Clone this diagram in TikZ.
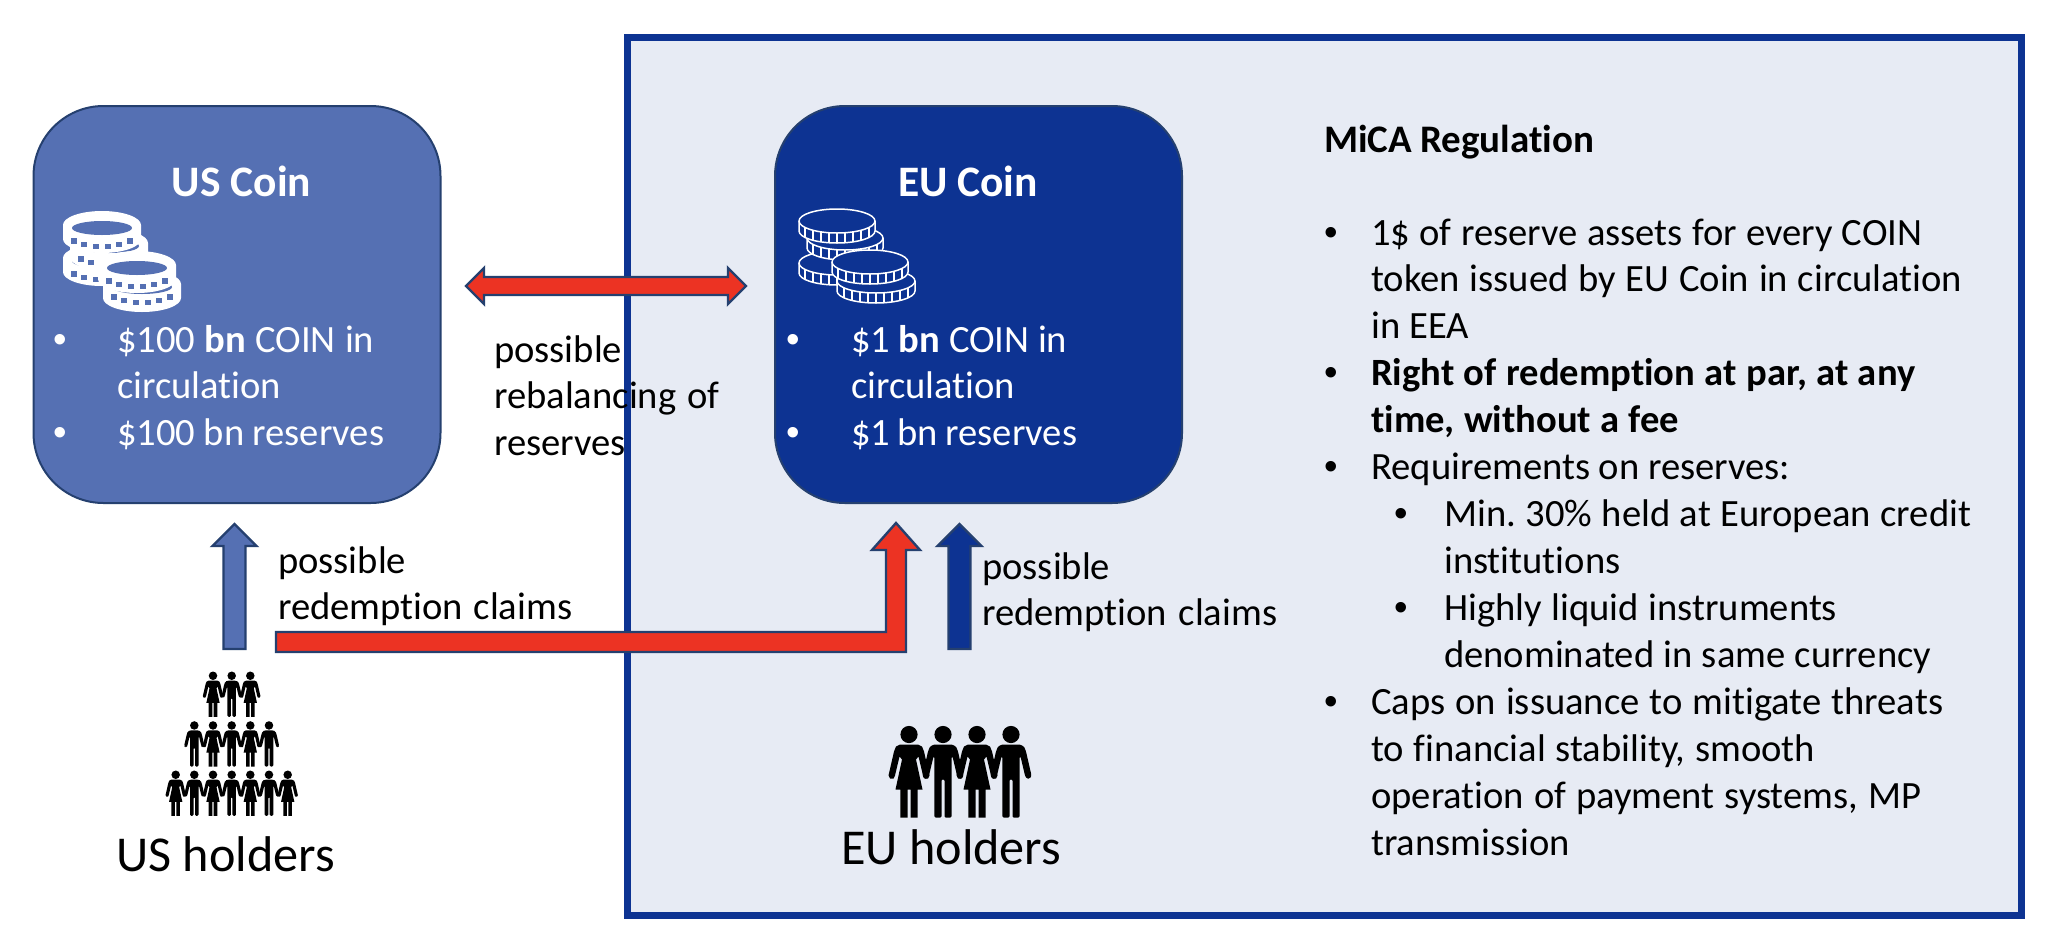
\documentclass[tikz,border=0pt]{standalone}
\usepackage{fontspec}
\setmainfont{Carlito}[Ligatures=NoCommon]
\newfontfamily\bulfont{Liberation Sans}
\usetikzlibrary{calc}
\definecolor{frameblue}{HTML}{0D3392}
\definecolor{panelbg}{HTML}{E7EBF4}
\definecolor{usblue}{HTML}{5570B3}
\definecolor{edgenavy}{HTML}{25406F}
\definecolor{arrowred}{HTML}{EC3323}
\newcommand\txtsize{\fontsize{38.6}{46.95}\selectfont}
\newcommand\fitw[2]{\hbox to #1pt{\frenchspacing\spaceskip=0.226em plus 1fil minus 1fil\relax #2}}
\newcommand\oln[3]{\hbox{\kern#1pt\fitw{#2}{#3}}}
\newcommand\bln[4]{\hbox{\kern#1pt\hbox to 0pt{\bulfont\char"2022\hss}\kern#2pt\fitw{#3}{#4}}}
\newcommand\blocktext[1]{\vtop{\txtsize\baselineskip=46.95pt\lineskiplimit=-1000pt\lineskip=0pt\parindent=0pt #1}}
\newcommand\coinE[3]{%
  \path[eucoin] ({#1-#3},#2) -- ++(0,10) arc[start angle=180,end angle=360,x radius=#3pt,y radius=12pt] -- ++(0,-10) arc[start angle=0,end angle=180,x radius=#3pt,y radius=12pt] -- cycle;
  \draw[eucoinline] ({#1-#3},#2) arc[start angle=180,end angle=360,x radius=#3pt,y radius=12pt];
  \foreach \d in {-32,-24,-16,-8,0,8,16,24,32}
    \draw[eucoinline] ({#1+\d},{#2+12*sqrt(1-(\d/#3)*(\d/#3))}) -- ++(0,10);
}
\newcommand\coinU[3]{%
  \fill[white] ({#1-39},#2) -- ++(0,14) arc[start angle=180,end angle=360,x radius=39pt,y radius=14pt] -- ++(0,-14) arc[start angle=0,end angle=180,x radius=39pt,y radius=14pt] -- cycle;
  \fill[usblue] (#1,{#2+3}) ellipse[x radius=30pt,y radius=7pt];
  \foreach \d in {-28,-18,-6,6,17,28}
    \fill[usblue] ({#1+\d-2.7},{#2+#3-6*(\d/28)*(\d/28)-2.7}) rectangle ++(5.4,5.4);
}
\tikzset{
  x=1pt,y=-1pt,
  panelbox/.style={draw=frameblue,fill=panelbg,line width=7pt,minimum width=1394pt,minimum height=878pt,inner sep=0},
  coinbox/.style={draw=edgenavy,line width=2pt,rounded corners=70pt,minimum width=407pt,minimum height=397pt,inner sep=0},
  plain/.style={inner sep=0,anchor=base west,text=black},
  plainw/.style={inner sep=0,anchor=base west,text=white},
  title/.style={inner sep=0,anchor=base,text=white,font=\fontsize{43.5}{50}\selectfont\bfseries},
  holders/.style={inner sep=0,anchor=base west,font=\fontsize{50.2}{58}\selectfont},
  blockarrow/.style={draw=edgenavy,line width=2.4pt,line join=miter},
  eucoin/.style={fill=frameblue,draw=white,line width=1.5pt},
  eucoinline/.style={draw=white,line width=1.5pt},
  manicon/.pic={
    \fill (0,9) circle[radius=8.6];
    \fill[rounded corners=1.2pt] (-9,19) -- (9,19) -- (13,21) -- (15,26) -- (20.5,50) -- (19,53) -- (15.5,53) -- (14,50) -- (9.5,31) -- (8.6,31) -- (8.6,92) -- (1.5,92) -- (1.5,54) -- (-1.5,54) -- (-1.5,92) -- (-8.6,92) -- (-8.6,31) -- (-9.5,31) -- (-14,50) -- (-15.5,53) -- (-19,53) -- (-20.5,50) -- (-15,26) -- (-13,21) -- cycle;
  },
  womanicon/.pic={
    \fill (0,9) circle[radius=8.6];
    \fill (-9,19) -- (-13,21) -- (-15,26) -- (-20.5,50) -- (-19,53) -- (-15.5,53) -- (-14,50) -- (-9.5,31) -- (-7,34) -- (-13.5,64) -- (-8.6,64) -- (-8.6,92) -- (-1.5,92) -- (-1.5,64) -- (1.5,64) -- (1.5,92) -- (8.6,92) -- (8.6,64) -- (13.5,64) -- (7,34) -- (9.5,31) -- (14,50) -- (15.5,53) -- (19,53) -- (20.5,50) -- (15,26) -- (13,21) -- (9,19) -- cycle;
  },
}
\newcommand\uparrowshape[3]{% tail, tip, fill
  \path[blockarrow,fill=#3] ($(#1)+(-11,0)$) -- ($(#2)+(-11,22)$) -- ($(#2)+(-22,22)$) -- (#2) -- ($(#2)+(22,22)$) -- ($(#2)+(11,22)$) -- ($(#1)+(11,0)$) -- cycle;
}
\begin{document}
\begin{tikzpicture}
\useasboundingbox (0,0) rectangle (2046,932);
\fill[white] (0,0) rectangle (2046,932);
\node[panelbox] (panel) at (1324.5,476) {};
\node[coinbox,fill=usblue] (usbox) at (237,304.5) {};
\node[coinbox,fill=frameblue] (eubox) at (978.5,304.5) {};

% coins
\coinU{102}{258}{22}
\coinU{109}{243}{22}
\coinU{102}{225}{22}
\coinU{142}{284}{19}
\coinU{137}{265}{22}
\coinE{837}{263}{38}
\coinE{845}{238}{38}
\coinE{837}{221}{38}
\coinE{876}{281}{39}
\coinE{870}{262}{38}

% box texts
\node[title] (ustitle) at (241.5,196.5) {US Coin};
\node[title] (eutitle) at (968,196.5) {EU Coin};
\node[plainw] (ustext) at (53,352) {\blocktext{%
  \bln{0}{64}{257}{\$100 \textbf{bn} COIN in}
  \oln{64}{164}{circulation}
  \bln{0}{64}{267}{\$100 bn reserves}}};
\node[plainw] (eutext) at (786,352) {\blocktext{%
  \bln{0}{65}{216}{\$1 \textbf{bn} COIN in}
  \oln{65}{164}{circulation}
  \bln{0}{65}{226}{\$1 bn reserves}}};

% labels
\node[plain] (rebal) at (494,362) {\blocktext{%
  \oln{0}{125}{possible}
  \oln{0}{225}{rebalancing of}
  \oln{0}{128}{reserves}}};
\node[plain] (usclaim) at (278,573) {\blocktext{%
  \oln{0}{125}{possible}
  \oln{0}{294}{redemption claims}}};
\node[plain] (euclaim) at (982,579) {\blocktext{%
  \oln{0}{126}{possible}
  \oln{0}{295}{redemption claims}}};

% MiCA panel
\node[plain] (mica) at (1324,152) {\blocktext{%
  \hbox{\fontsize{39}{46.95}\selectfont\fitw{270}{\textbf{MiCA Regulation}}}
  \vskip 46.05pt
  \bln{0}{47}{551}{1\$ of reserve assets for every COIN}
  \oln{47}{591}{token issued by EU Coin in circulation}
  \oln{47}{98}{in EEA}
  \bln{0}{47}{544}{\textbf{Right of redemption at par, at any}}
  \oln{47}{308}{\textbf{time, without a fee}}
  \bln{0}{47}{419}{Requirements on reserves:}
  \bln{70}{50}{527}{Min. 30\% held at European credit}
  \oln{120}{176}{institutions}
  \bln{70}{50}{393}{Highly liquid instruments}
  \oln{120}{487}{denominated in same currency}
  \bln{0}{47}{572}{Caps on issuance to mitigate threats}
  \oln{47}{444}{to financial stability, smooth}
  \oln{47}{550}{operation of payment systems, MP}
  \oln{47}{196}{transmission}}};

% holders
\node[holders] (usholders) at (116,871) {US holders};
\node[holders] (euholders) at (841,864) {EU holders};

% people
\foreach \px/\kind in {213/womanicon,231.7/manicon,250.3/womanicon}
  \pic[scale=.495] at (\px,671.3) {\kind};
\foreach \px/\kind in {194.3/manicon,213/womanicon,231.7/manicon,250.3/womanicon,269/manicon}
  \pic[scale=.495] at (\px,721) {\kind};
\foreach \px/\kind in {175.7/womanicon,194.3/manicon,213/womanicon,231.7/manicon,250.3/womanicon,269/manicon,287.7/womanicon}
  \pic[scale=.495] at (\px,770.3) {\kind};
\foreach \px/\kind in {909/womanicon,943/manicon,977/womanicon,1011/manicon}
  \pic at (\px,725.5) {\kind};

% arrows
\coordinate (rebalL) at (466,286);
\coordinate (rebalR) at (746,286);
\path[blockarrow,fill=arrowred] (rebalL) -- ($(rebalL)+(18,-18)$) -- ($(rebalL)+(18,-9)$) -- ($(rebalR)+(-18,-9)$) -- ($(rebalR)+(-18,-18)$) -- (rebalR) -- ($(rebalR)+(-18,18)$) -- ($(rebalR)+(-18,9)$) -- ($(rebalL)+(18,9)$) -- ($(rebalL)+(18,18)$) -- cycle;

\coordinate (usTail) at (234.5,649);
\coordinate (usTip) at (234.5,524);
\uparrowshape{usTail}{usTip}{usblue}

\coordinate (euTail) at (959.5,649);
\coordinate (euTip) at (959.5,524);
\uparrowshape{euTail}{euTip}{frameblue}

\coordinate (crossTail) at (276,642);
\coordinate (crossTip) at (896,523);
\path[blockarrow,fill=arrowred] ($(crossTail)+(0,-10)$) -- ($(crossTip |- crossTail)+(-10,-10)$) -- ($(crossTip)+(-10,27)$) -- ($(crossTip)+(-24,27)$) -- (crossTip) -- ($(crossTip)+(24,27)$) -- ($(crossTip)+(10,27)$) -- ($(crossTip |- crossTail)+(10,10)$) -- ($(crossTail)+(0,10)$) -- cycle;
\end{tikzpicture}
\end{document}
